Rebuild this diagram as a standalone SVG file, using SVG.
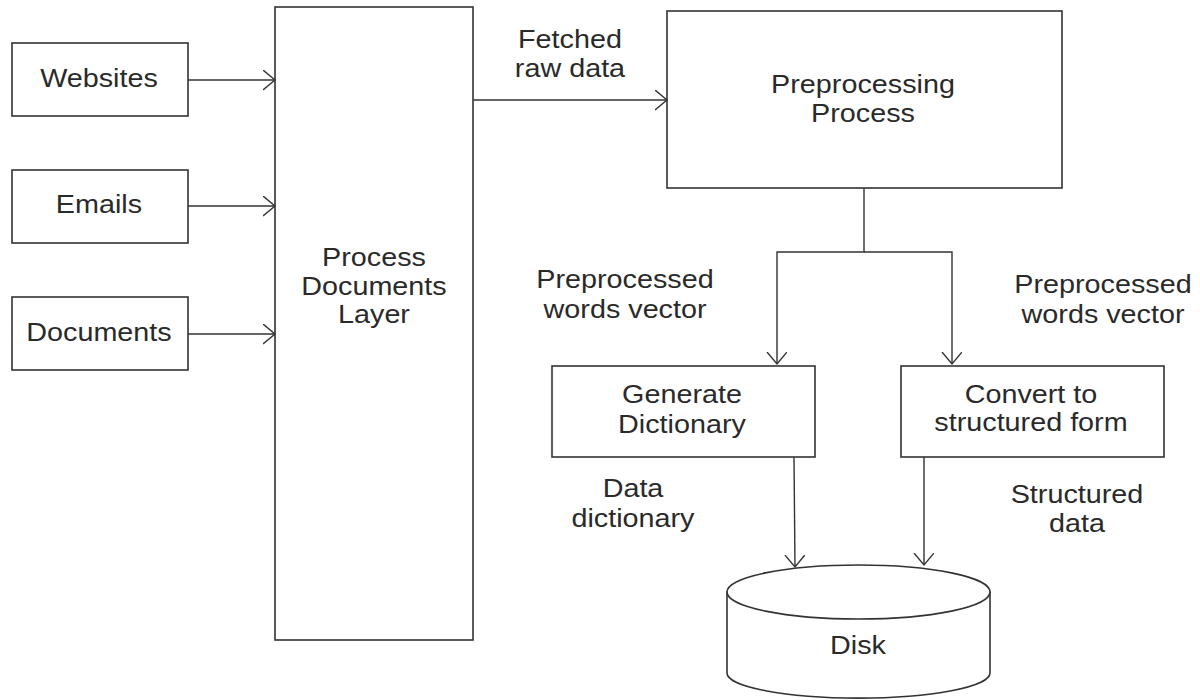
<svg xmlns="http://www.w3.org/2000/svg" width="1200" height="700" viewBox="0 0 1200 700">
<defs>
<style>
.box, .disk { fill: #fff; stroke: #333; stroke-width: 1.6; }
.c { fill: none; stroke: #333; stroke-width: 1.4; }
text { font-family: "Liberation Sans", Arial, sans-serif; font-size: 25px; fill: #2a2a2a; text-anchor: middle; transform-box: fill-box; transform-origin: center; transform: scaleX(1.15); }
</style>
<marker id="ah" markerUnits="userSpaceOnUse" markerWidth="14" markerHeight="22" refX="12" refY="10" orient="auto" viewBox="0 0 14 22">
<path d="M0,0 L12,10 L0,20" fill="none" stroke="#333" stroke-width="1.4"/>
</marker>
</defs>
<rect width="1200" height="700" fill="#fff"/>
<g id="websites"><rect class="box" x="12" y="43" width="176" height="73"/><text x="99" y="87">Websites</text></g>
<g id="emails"><rect class="box" x="12" y="170" width="176" height="73"/><text x="99" y="213">Emails</text></g>
<g id="documents"><rect class="box" x="12" y="297" width="176" height="73"/><text x="99" y="341">Documents</text></g>
<g id="process-layer"><rect class="box" x="275" y="7" width="198" height="633"/><text x="374" y="266">Process</text><text x="374" y="295">Documents</text><text x="374" y="323">Layer</text></g>
<g id="preprocessing"><rect class="box" x="667" y="11" width="395" height="177"/><text x="863" y="93">Preprocessing</text><text x="863" y="122">Process</text></g>
<g id="generate"><rect class="box" x="552" y="366" width="263" height="91"/><text x="682" y="403">Generate</text><text x="682" y="433">Dictionary</text></g>
<g id="convert"><rect class="box" x="901" y="366" width="263" height="91"/><text x="1031" y="403">Convert to</text><text x="1031" y="431">structured form</text></g>
<g id="disk">
<path class="disk" d="M727,592 L727,673 A131,25 0 0 0 990,673 L990,592 Z"/>
<ellipse class="disk" cx="858.5" cy="592" rx="131.5" ry="27"/>
<text x="858" y="654">Disk</text>
</g>
<g id="connectors">
<line class="c" x1="188" y1="80" x2="275" y2="80" marker-end="url(#ah)"/>
<line class="c" x1="188" y1="206" x2="275" y2="206" marker-end="url(#ah)"/>
<line class="c" x1="188" y1="334" x2="275" y2="334" marker-end="url(#ah)"/>
<line class="c" x1="473" y1="100" x2="667" y2="100" marker-end="url(#ah)"/>
<polyline class="c" points="864,188 864,252 777,252 777,364" marker-end="url(#ah)"/>
<polyline class="c" points="864,252 952,252 952,364" marker-end="url(#ah)"/>
<line class="c" x1="794" y1="457" x2="795" y2="567" marker-end="url(#ah)"/>
<line class="c" x1="924" y1="457" x2="924" y2="565" marker-end="url(#ah)"/>
</g>
<g id="labels">
<text x="570" y="48">Fetched</text><text x="570" y="77">raw data</text>
<text x="625" y="288">Preprocessed</text><text x="625" y="318">words vector</text>
<text x="1103" y="293">Preprocessed</text><text x="1103" y="323">words vector</text>
<text x="633" y="497">Data</text><text x="633" y="527">dictionary</text>
<text x="1077" y="503">Structured</text><text x="1077" y="532">data</text>
</g>
</svg>
